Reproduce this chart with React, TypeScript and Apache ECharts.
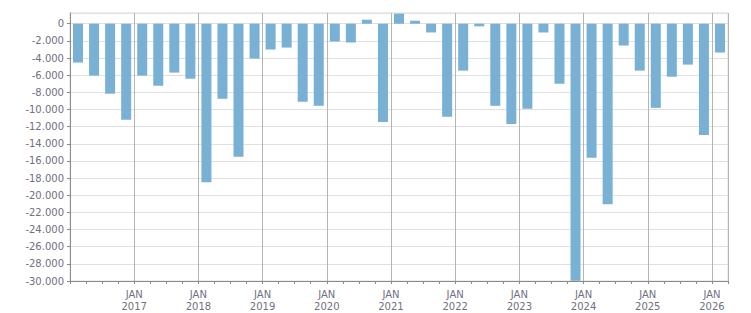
import React, { useEffect, useRef } from "react";
import * as echarts from "echarts";

// Quarterly balance, 2016 Q1 – 2026 Q1
const years = [2016, 2017, 2018, 2019, 2020, 2021, 2022, 2023, 2024, 2025, 2026];
const quarters: string[] = [];
years.forEach((y) => {
  [1, 2, 3, 4].forEach((q) => {
    if (y < 2026 || q === 1) quarters.push(`${y} Q${q}`);
  });
});

const balance = [
  -4530, -6050, -8160, -11210,
  -6050, -7230, -5700, -6410,
  -18480, -8750, -15500, -4060,
  -3010, -2780, -9100, -9570,
  -2070, -2190, 470, -11450,
  1170, 350, -1020, -10860,
  -5470, -310, -9570, -11680,
  -9920, -1020, -7000, -29960,
  -15620, -21060, -2540, -5470,
  -9810, -6180, -4770, -12970,
  -3360,
];

const janLabels = ["2017", "2018", "2019", "2020", "2021", "2022", "2023", "2024", "2025", "2026"];

const FONT = "DejaVu Sans";
const LABEL_COLOR = "#70707f";
const AXIS_COLOR = "#8a8a8a";

function formatThousands(v: number): string {
  const s = Math.abs(Math.round(v)).toString().replace(/\B(?=(\d{3})+(?!\d))/g, ".");
  return (v < 0 ? "-" : "") + s;
}

export default function App() {
  const ref = useRef<HTMLDivElement>(null);

  useEffect(() => {
    if (!ref.current) return;
    const chart = echarts.init(ref.current, undefined, { renderer: "svg" });
    chart.setOption({
      animation: false,
      backgroundColor: "#ffffff",
      grid: {
        left: 70,
        right: 23,
        top: 13,
        bottom: 32,
        show: true,
        borderColor: "#dddddd",
        borderWidth: 1,
      },
      xAxis: [
        {
          type: "category",
          data: quarters,
          boundaryGap: true,
          axisLine: { show: true, onZero: false, lineStyle: { color: AXIS_COLOR, width: 1 } },
          axisTick: { show: true, interval: 0, length: 3, lineStyle: { color: AXIS_COLOR } },
          axisLabel: { show: false },
          splitLine: {
            show: true,
            interval: (i: number) => i > 0 && i % 4 === 0,
            lineStyle: { color: "#b5b5b5", width: 1 },
          },
        },
        {
          type: "value",
          position: "bottom",
          min: 0,
          max: quarters.length,
          interval: 4,
          axisLine: { show: false, onZero: false },
          axisTick: { show: false },
          splitLine: { show: false },
          axisLabel: {
            show: true,
            showMinLabel: false,
            showMaxLabel: false,
            margin: 7,
            fontFamily: FONT,
            fontSize: 10,
            lineHeight: 12,
            color: LABEL_COLOR,
            formatter: (v: number) =>
              v > 0 && v % 4 === 0 && janLabels[v / 4 - 1] ? `JAN\n${janLabels[v / 4 - 1]}` : "",
          },
        },
      ],
      yAxis: {
        type: "value",
        min: -30000,
        max: 1250,
        interval: 2000,
        axisLine: { show: true, onZero: false, lineStyle: { color: AXIS_COLOR, width: 1 } },
        axisTick: { show: true, length: 3, lineStyle: { color: AXIS_COLOR } },
        splitLine: { show: true, lineStyle: { color: "#e0e0e0", width: 1 } },
        axisLabel: {
          showMaxLabel: false,
          margin: 6,
          fontFamily: FONT,
          fontSize: 10,
          color: LABEL_COLOR,
          formatter: (v: number) => (v > 0 ? "" : formatThousands(v)),
        },
      },
      series: [
        {
          type: "bar",
          xAxisIndex: 0,
          yAxisIndex: 0,
          data: balance,
          barWidth: 10,
          itemStyle: { color: "#78b1d3" },
        },
      ],
    });
    return () => chart.dispose();
  }, []);

  return (
    <div
      ref={ref}
      style={{ position: "fixed", left: 0, top: 0, width: 751, height: 313 }}
    />
  );
}
